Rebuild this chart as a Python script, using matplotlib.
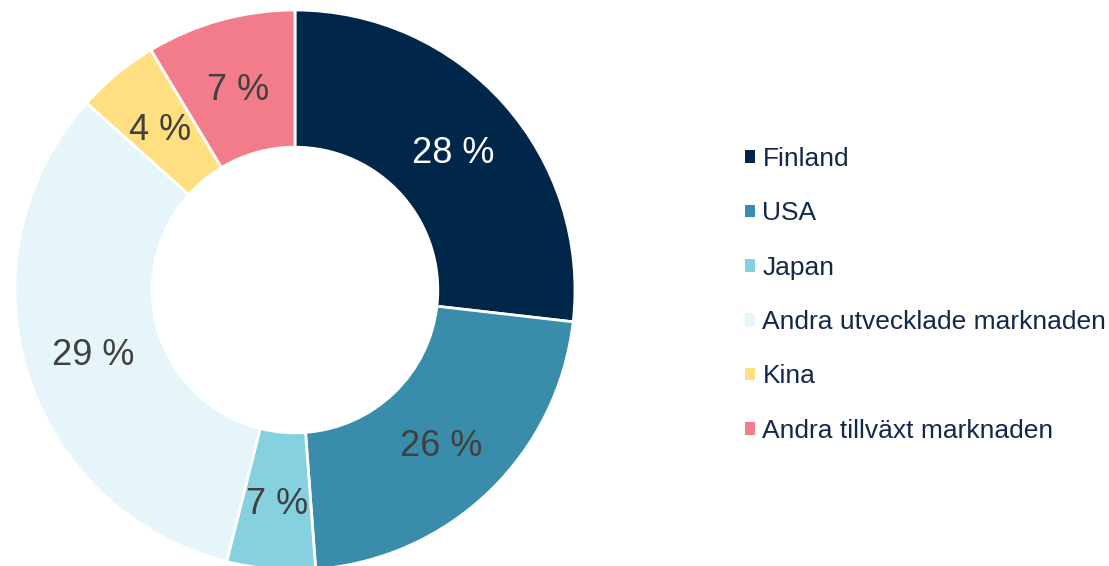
import matplotlib.pyplot as plt
from matplotlib.patches import Patch
from matplotlib.transforms import ScaledTranslation

plt.rcParams['font.family'] = ['Liberation Sans', 'DejaVu Sans']

## market names, wedge sizes and the printed labels
markets = ['Finland', 'USA', 'Japan', 'Andra utvecklade marknaden', 'Kina',
           'Andra tillväxt marknaden']
shares = [26.8, 22.0, 5.1, 32.7, 4.75, 8.6]
pct_labels = ['28 %', '26 %', '7 %', '29 %', '4 %', '7 %']
colors = ['#00264A', '#3A8DAA', '#86D1DF', '#E6F5F9', '#FFDF80', '#F37C8A']
label_colors = ['white', '#404040', '#404040', '#404040', '#404040', '#404040']

fig = plt.figure(figsize=(11.09, 5.66), dpi=100)
ax = fig.add_axes([15 / 1109, -4 / 566, 560 / 1109, 560 / 566])

it = iter(pct_labels)
wedges, texts, autotexts = ax.pie(
    shares, colors=colors, startangle=90, counterclock=False,
    autopct=lambda p: next(it), pctdistance=0.755,
    wedgeprops=dict(width=0.49, edgecolor='white', linewidth=2),
    textprops=dict(fontsize=26))
# labels sit a little low in the original
shift = ScaledTranslation(0, -4 / 100, fig.dpi_scale_trans)
for t, c in zip(autotexts, label_colors):
    t.set_color(c)
    t.set_transform(t.get_transform() + shift)
ax.set_xlim(-1, 1)
ax.set_ylim(-1, 1)
ax.set_aspect('equal')

## legend on the right, plain square markers
handles = [Patch(facecolor=c, edgecolor='none') for c in colors]
fig.legend(handles, markets, loc='center left', bbox_to_anchor=(745 / 1109, 0.479),
           frameon=False, fontsize=19, handlelength=0.36, handleheight=0.36,
           handletextpad=0.3, labelspacing=1.15, borderpad=0, borderaxespad=0,
           labelcolor='#13294B')

plt.savefig('out.png', dpi=100)
